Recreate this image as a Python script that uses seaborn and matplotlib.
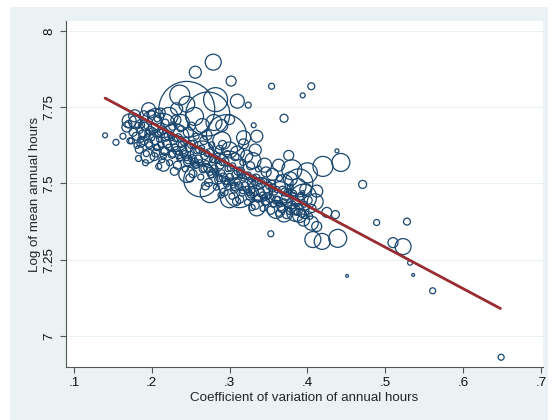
import numpy as np
import pandas as pd
import matplotlib
matplotlib.use("Agg")
import matplotlib.pyplot as plt
import seaborn as sns
from matplotlib.patches import Rectangle

# coefficient of variation of annual hours, log mean hours, weight (~circle area)
band_cv = [
    .163, .168, .172, .176, .178, .181, .184, .186, .188, .187, .190, .183,
    .193, .196, .194, .198, .197, .199, .192, .203, .206, .204, .208, .202, .207, .209,
    .213, .216, .212, .218, .214, .217, .211, .223, .226, .222, .228, .224, .227, .229,
    .233, .236, .232, .238, .234, .237, .231, .243, .246, .242, .248, .244, .247, .249,
    .253, .256, .252, .258, .254, .257, .251, .263, .266, .262, .268, .264, .267, .269,
    .273, .276, .272, .278, .274, .277, .271, .283, .286, .282, .288, .284, .287, .289,
    .293, .296, .292, .298, .294, .297, .291, .303, .306, .302, .308, .304, .307, .309,
    .313, .316, .312, .318, .314, .317, .323, .326, .322, .328, .324, .327, .329,
    .333, .336, .332, .338, .334, .337, .343, .346, .342, .348, .344, .347,
    .353, .356, .352, .358, .354, .363, .366, .362, .368, .364,
    .373, .376, .372, .378, .383, .386, .382, .393, .396, .392, .403, .406,
    .180, .190, .200, .210, .220, .230, .240, .250, .260, .270, .280, .290, .300,
    .310, .320, .330, .340, .350, .360, .370, .380, .390,
    .185, .195, .205, .215, .225, .235, .245, .255, .265, .275, .285, .295, .305,
    .315, .325, .335, .345, .355, .365, .375,
    .170, .182, .191, .201, .211, .221, .231, .241, .251, .261, .271, .281, .291,
    .301, .311, .321, .331, .341, .351, .361, .371, .381, .391, .401,
    .174, .186, .197, .207, .217, .227, .237, .247, .257, .267, .277, .287, .297,
    .307, .317, .327, .337, .347, .357, .367, .377, .387, .397,
]
band_hours = [
    7.655, 7.685, 7.640, 7.668, 7.702, 7.625, 7.612, 7.645, 7.662, 7.692, 7.722, 7.582,
    7.598, 7.632, 7.652, 7.674, 7.703, 7.728, 7.568, 7.588, 7.618, 7.641, 7.660, 7.682, 7.712, 7.556,
    7.578, 7.608, 7.628, 7.652, 7.672, 7.698, 7.731, 7.568, 7.596, 7.619, 7.641, 7.661, 7.688, 7.540,
    7.560, 7.582, 7.608, 7.628, 7.650, 7.679, 7.708, 7.548, 7.571, 7.598, 7.618, 7.641, 7.668, 7.518,
    7.532, 7.559, 7.582, 7.607, 7.629, 7.655, 7.688, 7.521, 7.548, 7.568, 7.592, 7.616, 7.641, 7.492,
    7.503, 7.528, 7.551, 7.578, 7.601, 7.627, 7.659, 7.488, 7.512, 7.538, 7.561, 7.589, 7.612, 7.462,
    7.472, 7.498, 7.521, 7.549, 7.571, 7.598, 7.628, 7.458, 7.482, 7.508, 7.529, 7.558, 7.588, 7.441,
    7.448, 7.468, 7.492, 7.518, 7.541, 7.569, 7.438, 7.459, 7.481, 7.502, 7.528, 7.558, 7.421,
    7.428, 7.451, 7.472, 7.491, 7.518, 7.548, 7.418, 7.441, 7.462, 7.482, 7.508, 7.538,
    7.412, 7.432, 7.451, 7.472, 7.498, 7.402, 7.424, 7.448, 7.478, 7.518,
    7.398, 7.428, 7.458, 7.488, 7.408, 7.438, 7.468, 7.402, 7.432, 7.458, 7.392, 7.418,
    7.655, 7.640, 7.650, 7.645, 7.630, 7.620, 7.610, 7.595, 7.580, 7.565, 7.548, 7.535, 7.520,
    7.505, 7.492, 7.480, 7.470, 7.460, 7.445, 7.440, 7.430, 7.425,
    7.675, 7.665, 7.600, 7.590, 7.650, 7.595, 7.585, 7.570, 7.605, 7.540, 7.575, 7.510, 7.495,
    7.530, 7.470, 7.505, 7.455, 7.485, 7.435, 7.470,
    7.695, 7.690, 7.688, 7.672, 7.668, 7.655, 7.648, 7.635, 7.628, 7.610, 7.598, 7.580, 7.570,
    7.550, 7.540, 7.525, 7.518, 7.500, 7.492, 7.480, 7.472, 7.460, 7.455, 7.445,
    7.640, 7.632, 7.625, 7.618, 7.605, 7.598, 7.585, 7.578, 7.562, 7.548, 7.532, 7.518, 7.505,
    7.490, 7.478, 7.462, 7.452, 7.440, 7.432, 7.418, 7.410, 7.405, 7.398,
]
band_weight = [
    9, 25, 9, 16, 36, 9, 16, 9, 16, 9, 25, 9,
    9, 16, 9, 16, 9, 16, 9, 16, 9, 16, 9, 25, 9, 9,
    9, 16, 9, 16, 9, 16, 25, 9, 16, 9, 16, 9, 16, 16,
    16, 9, 16, 9, 16, 9, 25, 9, 16, 9, 16, 9, 25, 16,
    16, 9, 16, 9, 16, 9, 16, 9, 16, 9, 16, 9, 16, 16,
    16, 9, 16, 9, 16, 9, 25, 9, 16, 9, 16, 9, 16, 9,
    16, 9, 16, 9, 16, 9, 16, 9, 16, 9, 16, 9, 16, 16,
    16, 9, 16, 9, 16, 9, 9, 16, 9, 16, 9, 16, 9,
    16, 9, 16, 9, 16, 9, 9, 16, 9, 16, 9, 25,
    16, 9, 16, 9, 16, 9, 16, 9, 16, 9,
    16, 9, 16, 9, 9, 16, 9, 16, 9, 16, 9, 16,
    16, 16, 9, 9, 16, 9, 16, 9, 16, 9, 16, 9, 16,
    9, 16, 9, 16, 9, 16, 9, 16, 9,
    9, 9, 16, 9, 9, 16, 9, 16, 9, 16, 9, 16, 9,
    16, 9, 16, 9, 16, 9, 16,
    12, 9, 16, 12, 9, 16, 12, 9, 16, 12, 9, 16, 12,
    9, 16, 12, 9, 16, 12, 9, 16, 12, 9, 16,
    9, 16, 12, 9, 16, 12, 9, 16, 12, 9, 16, 12, 9,
    16, 12, 9, 16, 12, 9, 16, 12, 9, 16,
]

medium_cv = [
    .171, .178, .196, .205, .222, .238, .255, .265, .280, .290, .300, .310, .322,
    .330, .345, .355, .370, .378, .388, .398, .195, .215, .245, .275, .300, .335,
    .360, .390, .410, .412, .380, .363, .333, .318, .290, .300, .318, .245, .232,
    .370, .385, .395, .405, .400, .389, .394,
]
medium_hours = [
    7.705, 7.722, 7.742, 7.720, 7.720, 7.700, 7.720, 7.690, 7.700, 7.640, 7.610, 7.600, 7.590,
    7.575, 7.560, 7.530, 7.500, 7.515, 7.490, 7.480, 7.590, 7.560, 7.530, 7.470, 7.450, 7.420,
    7.415, 7.395, 7.440, 7.475, 7.545, 7.560, 7.610, 7.630, 7.690, 7.710, 7.650, 7.760, 7.745,
    7.400, 7.405, 7.380, 7.370, 7.535, 7.502, 7.470,
]
medium_weight = [
    49, 36, 49, 64, 81, 64, 81, 49, 64, 81, 64, 49, 36,
    64, 49, 36, 81, 49, 64, 36, 49, 36, 64, 100, 81, 64,
    81, 49, 64, 36, 100, 36, 36, 25, 36, 25, 49, 64, 36,
    64, 81, 36, 49, 100, 196, 4,
]

large_cv = [.245, .272, .296, .263, .313, .215, .236, .282, .300, .340, .395, .365, .230, .265, .200]
large_hours = [7.743, 7.728, 7.660, 7.512, 7.470, 7.690, 7.790, 7.775, 7.560, 7.480, 7.455, 7.470, 7.650, 7.600, 7.705]
large_weight = [784, 484, 400, 289, 225, 144, 100, 144, 196, 144, 169, 121, 196, 144, 100]

outlier_cv = [
    .140, .154, .279, .256, .302, .354, .310, .324, .331, .335, .405, .394, .370,
    .376, .438, .420, .443, .471, .489, .528, .510, .523, .532, .451, .536, .561,
    .649, .407, .419, .439, .412, .425, .436, .384, .353,
]
outlier_hours = [
    7.658, 7.635, 7.898, 7.865, 7.836, 7.819, 7.770, 7.757, 7.691, 7.655, 7.819, 7.789, 7.714,
    7.592, 7.607, 7.556, 7.569, 7.497, 7.372, 7.375, 7.306, 7.293, 7.240, 7.197, 7.200, 7.148,
    6.930, 7.316, 7.310, 7.320, 7.359, 7.405, 7.398, 7.414, 7.335,
]
outlier_weight = [
    6, 9, 64, 36, 25, 9, 49, 9, 6, 36, 12, 6, 16,
    25, 4, 100, 81, 16, 9, 12, 25, 64, 6, 2, 2, 9,
    9, 64, 64, 81, 25, 25, 16, 25, 9,
]

# fitted line end points
fit_cv = [0.14, 0.648]
fit_hours = [7.78, 7.09]

xticks = [.1, .2, .3, .4, .5, .6, .7]
xticklabels = [".1", ".2", ".3", ".4", ".5", ".6", ".7"]
yticks = [7, 7.25, 7.5, 7.75, 8]
yticklabels = ["7", "7.25", "7.5", "7.75", "8"]

df = pd.DataFrame({
    "cv": band_cv + medium_cv + large_cv + outlier_cv,
    "loghours": band_hours + medium_hours + large_hours + outlier_hours,
    "w": band_weight + medium_weight + large_weight + outlier_weight,
})

navy = "#1a476f"
maroon = "#982c31"
bluish = "#eaf2f3"

sns.set_style("white")
plt.rcParams["font.family"] = ["Liberation Sans", "DejaVu Sans"]

fig = plt.figure(figsize=(5.56, 4.2), dpi=100)
fig.patch.set_facecolor("white")
# light bluish graph region behind the plot
bg = Rectangle((10 / 556, 0), 538 / 556, 413 / 420, transform=fig.transFigure,
               facecolor=bluish, edgecolor="none", zorder=-10)
fig.add_artist(bg)
ax = fig.add_axes([66 / 556, 1 - 367 / 420, 477 / 556, 346 / 420])
ax.set_zorder(1)
ax.set_facecolor("white")

sns.scatterplot(data=df, x="cv", y="loghours", size="w",
                sizes=(0, 2070), size_norm=(0, 1000),
                facecolor="none", edgecolor=navy, linewidth=0.9,
                legend=False, ax=ax, zorder=3)
sns.lineplot(x=fit_cv, y=fit_hours, color=maroon, linewidth=2.0, ax=ax, zorder=4)

ax.set_xlim(0.0898, 0.7028)
ax.set_ylim(6.898, 8.033)
ax.set_xticks(xticks)
ax.set_xticklabels(xticklabels)
ax.set_yticks(yticks)
ax.set_yticklabels(yticklabels, rotation=90, va="center")
ax.yaxis.grid(True, color="#eaf2f3", linewidth=0.8)
ax.xaxis.grid(False)
for s in ["top", "right"]:
    ax.spines[s].set_visible(False)
for s in ["left", "bottom"]:
    ax.spines[s].set_color("#555555")
    ax.spines[s].set_linewidth(0.8)
ax.tick_params(axis="both", direction="out", length=4, width=0.8,
               color="#555555", labelsize=9.6, labelcolor="#111111",
               left=True, bottom=True)
ax.set_xlabel("Coefficient of variation of annual hours", fontsize=9.6, labelpad=2)
ax.set_ylabel("Log of mean annual hours", fontsize=9.6, labelpad=2)

fig.savefig("out.png", dpi=100, facecolor=fig.get_facecolor())
